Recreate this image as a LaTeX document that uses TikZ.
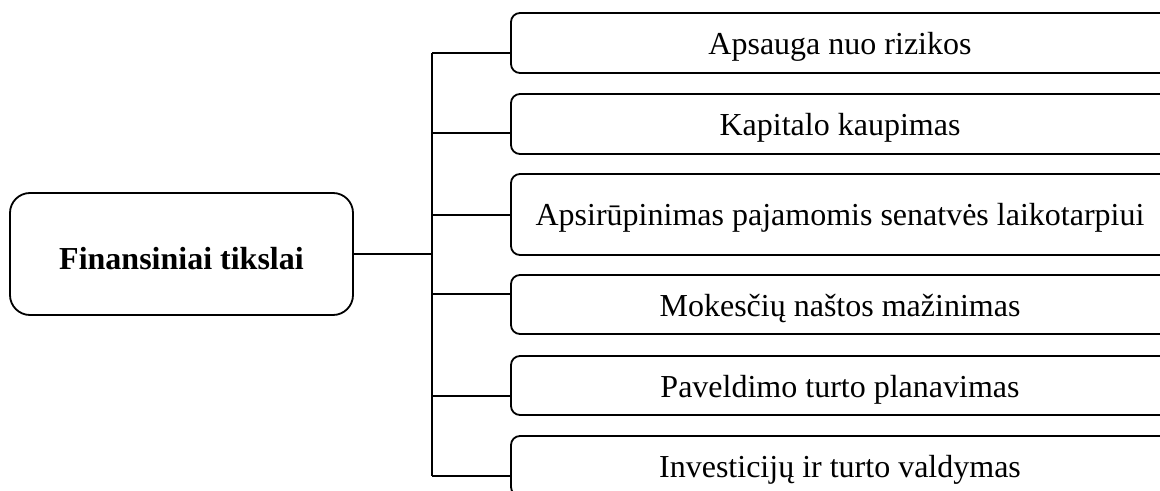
\documentclass[tikz,border=0pt]{standalone}
\usepackage{fontspec}
\setmainfont{Liberation Serif}
\usetikzlibrary{positioning}

\begin{document}
\begin{tikzpicture}[x=0.5pt,y=-0.5pt,
  line width=0.9pt,
  rootbox/.style={draw,rounded corners=10pt,minimum width=171.5pt,minimum height=61pt,inner sep=0pt,
    text height=16pt,text depth=0pt,font=\fontsize{16}{19}\selectfont\bfseries},
  goalbox/.style={draw,rounded corners=4.5pt,minimum width=329pt,inner sep=0pt,
    text height=11.5pt,text depth=0pt,font=\fontsize{16}{19}\selectfont}]
\useasboundingbox (0,0) rectangle (1160,491);
\clip (0,0) rectangle (1160,491);
% main goal
\node[rootbox] (root) at (181.5,254) {Finansiniai tikslai};
\coordinate (hub) at (432,254);
\draw (root.east) -- (hub);
% sub goals: number / centre / height / branch / text
\foreach \n/\c/\h/\b/\t in {1/43/30/53/{Apsauga nuo rizikos},
  2/124/30/133/{Kapitalo kaupimas},
  3/214.5/40.5/215/{Apsirūpinimas pajamomis senatvės laikotarpiui},
  4/304.5/29.5/294/{Mokesčių naštos mažinimas},
  5/385.5/29.5/396/{Paveldimo turto planavimas},
  6/466/30/476/{Investicijų ir turto valdymas}}{
\node[goalbox,minimum height=\h pt] (g\n) at (840,\c) {\t};
\coordinate (j\n) at (432,\b);
\draw (j\n) -- (j\n -| g\n.west);
}
\draw (j1) -- (j6);
\end{tikzpicture}
\end{document}
